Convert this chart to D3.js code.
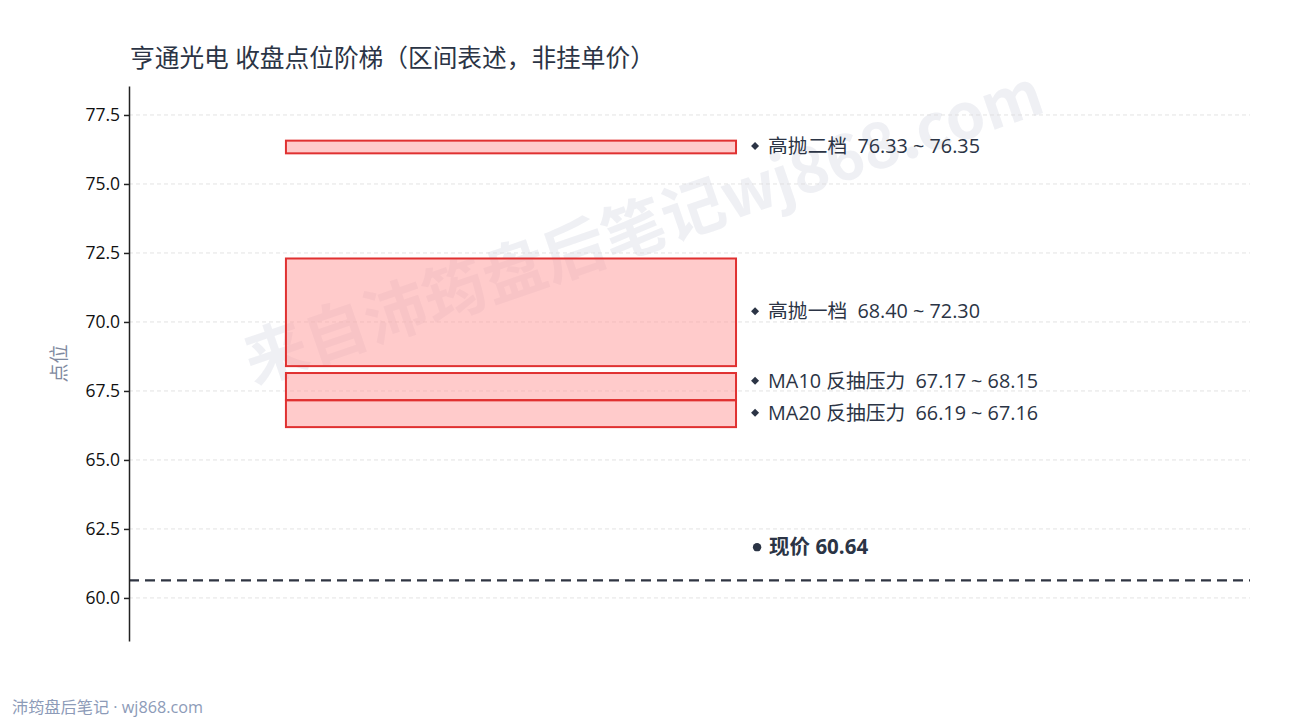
<!DOCTYPE html>
<html>
<head>
<meta charset="utf-8">
<script src="https://cdn.jsdelivr.net/npm/d3@7"></script>
<style>
  body { margin: 0; background: #fff; }
  text { font-family: "Open Sans", "Noto Sans CJK SC", sans-serif; white-space: pre; }
</style>
</head>
<body>
<svg id="chart" width="1290" height="720"></svg>
<script>
// zones (low, high) and their names
const zoneNames = ["高抛二档", "高抛一档", "MA10 反抽压力", "MA20 反抽压力"];
const zoneLow  = [76.33, 68.40, 67.17, 66.19];
const zoneHigh = [76.35, 72.30, 68.15, 67.16];
const lastPrice = 60.64;
const yTicks = [60.0, 62.5, 65.0, 67.5, 70.0, 72.5, 75.0, 77.5];
const titleText = "亨通光电 收盘点位阶梯（区间表述，非挂单价）";

const W = 1290, H = 720;
const margin = {top: 86, right: 40, bottom: 79, left: 129};
const svg = d3.select("#chart");

const pad = 2.2;
const yScale = d3.scaleLinear()
  .domain([lastPrice - pad, d3.max(zoneHigh) + pad])
  .range([H - margin.bottom, margin.top]);
const xScale = d3.scaleLinear().domain([0, 1]).range([margin.left, W - margin.right]);

// watermark
svg.append("text")
  .attr("transform", "translate(645,232) rotate(-19)")
  .attr("text-anchor", "middle")
  .attr("dominant-baseline", "middle")
  .style("font-family", "'Noto Sans CJK SC', sans-serif")
  .style("font-size", "63px")
  .style("font-weight", "bold")
  .style("fill", "rgba(195,200,215,0.27)")
  .text("来自沛筠盘后笔记wj868.com");

// grid
svg.append("g").selectAll("line").data(yTicks).enter().append("line")
  .attr("x1", margin.left).attr("x2", W - margin.right)
  .attr("y1", d => yScale(d)).attr("y2", d => yScale(d))
  .style("stroke", "#dcdcdc").style("stroke-width", 0.8).style("stroke-dasharray", "4,3");

// zones
const minH = 0.46;
const zones = zoneNames.map((n, i) => ({name: n, lo: zoneLow[i], hi: zoneHigh[i]}));
svg.append("g").selectAll("rect").data(zones).enter().append("rect")
  .attr("x", xScale(0.14))
  .attr("width", xScale(0.5415) - xScale(0.14))
  .attr("y", d => {
    const mid = (d.lo + d.hi) / 2;
    const hi = Math.max(d.hi, mid + minH / 2);
    return yScale(hi);
  })
  .attr("height", d => {
    const mid = (d.lo + d.hi) / 2;
    const span = Math.max(d.hi - d.lo, minH);
    return yScale(mid - span / 2) - yScale(mid + span / 2);
  })
  .style("fill", "rgba(255,160,160,0.55)")
  .style("stroke", "#e03131")
  .style("stroke-width", 2);

// label positions with simple collision push (bottom up)
const labelY = zones.map(d => yScale((d.lo + d.hi) / 2));
const order = d3.range(zones.length).sort((a, b) => labelY[b] - labelY[a]);
for (let k = 1; k < order.length; k++) {
  const prev = labelY[order[k - 1]];
  if (prev - labelY[order[k]] < 32) labelY[order[k]] = prev - 32;
}

const lab = svg.append("g").selectAll("g").data(zones).enter().append("g")
  .attr("transform", (d, i) => `translate(${xScale(0.5585)},${labelY[i] - 1})`);
lab.append("path")
  .attr("d", "M0,-4L4,0L0,4L-4,0Z")
  .style("fill", "#2b3445");
lab.append("text")
  .attr("x", 13)
  .attr("dy", "0.35em")
  .style("font-size", "19.8px")
  .style("fill", "#2b3445")
  .text(d => `${d.name}  ${d.lo.toFixed(2)} ~ ${d.hi.toFixed(2)}`);

// last price line
svg.append("line")
  .attr("x1", margin.left).attr("x2", W - margin.right)
  .attr("y1", yScale(lastPrice)).attr("y2", yScale(lastPrice))
  .style("stroke", "#2f3542").style("stroke-width", 2.2).style("stroke-dasharray", "10,6");

svg.append("circle")
  .attr("cx", xScale(0.5585) + 2)
  .attr("cy", yScale(lastPrice + 1.2))
  .attr("r", 4.2)
  .style("fill", "#2b3445");
svg.append("text")
  .attr("x", xScale(0.5585) + 14)
  .attr("y", yScale(lastPrice + 1.2))
  .attr("dy", "0.35em")
  .style("font-size", "20.5px")
  .style("font-weight", "bold")
  .style("fill", "#2b3445")
  .text(`现价 ${lastPrice.toFixed(2)}`);

// y axis
const yAxis = svg.append("g")
  .attr("transform", `translate(${margin.left},0)`)
  .call(d3.axisLeft(yScale).tickValues(yTicks).tickFormat(d3.format(".1f")).tickSize(5).tickSizeOuter(0));
yAxis.select(".domain").style("stroke", "#222").style("stroke-width", 1.5);
yAxis.selectAll(".tick line").style("stroke", "#222").style("stroke-width", 1.5);
yAxis.selectAll(".tick text").style("font-size", "17.5px").style("fill", "#111")
  .style("font-family", "'Open Sans', sans-serif").attr("x", -9);

svg.append("text")
  .attr("transform", `translate(66,${(margin.top + H - margin.bottom) / 2}) rotate(-90)`)
  .attr("text-anchor", "middle")
  .style("font-size", "19px")
  .style("fill", "#7f8aa0")
  .text("点位");

// title
svg.append("text")
  .attr("x", 130).attr("y", 67)
  .style("font-size", "24.7px")
  .style("fill", "#2b3445")
  .text(titleText);

// footer
svg.append("text")
  .attr("x", 12).attr("y", 713)
  .style("font-size", "16.2px")
  .style("fill", "#8d9bb8")
  .text("沛筠盘后笔记 · wj868.com");
</script>
</body>
</html>
